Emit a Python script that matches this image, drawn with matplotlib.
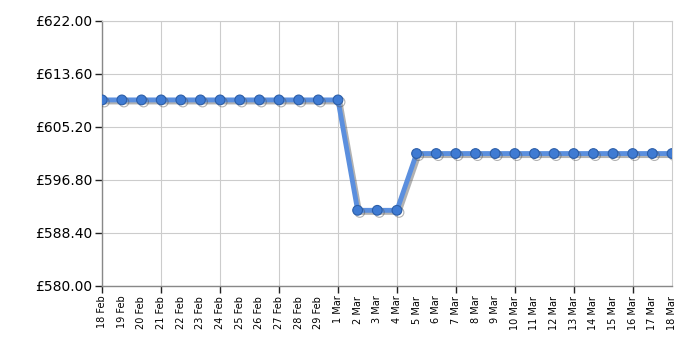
import matplotlib
matplotlib.use("Agg")
import matplotlib.pyplot as plt
import matplotlib.patheffects as pe
from matplotlib.ticker import FixedLocator, FixedFormatter

dates = ["18 Feb", "19 Feb", "20 Feb", "21 Feb", "22 Feb", "23 Feb", "24 Feb", "25 Feb",
         "26 Feb", "27 Feb", "28 Feb", "29 Feb", "1 Mar", "2 Mar", "3 Mar", "4 Mar",
         "5 Mar", "6 Mar", "7 Mar", "8 Mar", "9 Mar", "10 Mar", "11 Mar", "12 Mar",
         "13 Mar", "14 Mar", "15 Mar", "16 Mar", "17 Mar", "18 Mar"]
prices = [609.49] * 13 + [591.99] * 3 + [600.99] * 14
y_ticks = [580.00, 588.40, 596.80, 605.20, 613.60, 622.00]

fig = plt.figure(figsize=(7, 3.5), dpi=100)
ax = fig.add_axes([0.146, 0.183, 0.814, 0.757])

x = list(range(len(dates)))
ax.plot(x, prices, color="#5b8fde", linewidth=3.5, marker="o", markersize=7,
        markerfacecolor="#3f7bd3", markeredgecolor="#2c5ea8", markeredgewidth=0.8,
        zorder=3,
        path_effects=[pe.SimpleLineShadow(offset=(1.5, -1.5), shadow_color="#555555", alpha=0.45),
                      pe.Normal()])

ax.set_xlim(0, len(dates) - 1)
ax.set_ylim(580, 622)

major = [i for i in x if i % 3 == 0]
minor = [i for i in x if i % 3 != 0]
ax.xaxis.set_major_locator(FixedLocator(major))
ax.xaxis.set_major_formatter(FixedFormatter([dates[i] for i in major]))
ax.xaxis.set_minor_locator(FixedLocator(minor))
ax.xaxis.set_minor_formatter(FixedFormatter([dates[i] for i in minor]))
ax.tick_params(axis="x", which="major", length=5, width=1, color="#222222",
               labelrotation=90, labelsize=7, pad=2)
ax.tick_params(axis="x", which="minor", length=0, labelrotation=90, labelsize=7, pad=7)

ax.set_yticks(y_ticks)
ax.set_yticklabels(["£%.2f" % v for v in y_ticks])
ax.tick_params(axis="y", length=5, width=1, color="#222222", labelsize=10, pad=2)

ax.grid(True, which="major", color="#cccccc", linewidth=0.8)
ax.set_axisbelow(True)
for s in ["top", "right"]:
    ax.spines[s].set_color("#cccccc")
    ax.spines[s].set_linewidth(0.8)
for s in ["left", "bottom"]:
    ax.spines[s].set_color("#888888")
    ax.spines[s].set_linewidth(1)

fig.savefig("out.png", dpi=100)
